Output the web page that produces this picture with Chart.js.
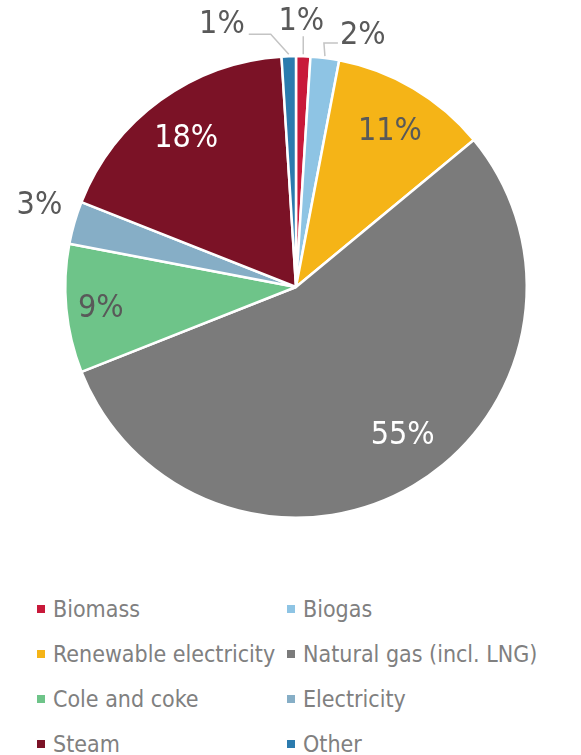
<!DOCTYPE html>
<html>
<head>
<meta charset="utf-8">
<script src="https://cdn.jsdelivr.net/npm/chart.js@4"></script>
<style>
  body { margin: 0; background: #fff; width: 581px; height: 755px; position: relative; overflow: hidden; }
  #pie { position: absolute; left: 0; top: 0; }
  #legend { position: absolute; left: 37px; top: 586px; display: grid; grid-template-columns: 250px 250px; grid-auto-rows: 45px;
            font-family: "DejaVu Sans Condensed", "DejaVu Sans", sans-serif; font-size: 23px; color: #808080; }
  #legend div { display: flex; align-items: center; height: 45px; white-space: nowrap; }
  #legend span.box { display: inline-block; flex: 0 0 8px; width: 8px; height: 8px; margin-right: 8px; }
</style>
</head>
<body>
<canvas id="pie" width="581" height="560"></canvas>
<div id="legend"></div>
<script>
const categories = ["Biomass", "Biogas", "Renewable electricity", "Natural gas (incl. LNG)", "Cole and coke", "Electricity", "Steam", "Other"];
const shares = [1, 2, 11, 55, 9, 3, 18, 1];
const colours = ["#C8193A", "#8EC4E4", "#F5B417", "#7B7B7B", "#6EC489", "#86AEC6", "#7B1226", "#2B7BAE"];

// where each percentage goes: inside the slice or outside with a leader line
const labelStyle = [
  { out: true, dx: -2, dy: -38, align: "center", leader: [[0, -20]] },
  { out: true, dx: 15, dy: -26, align: "left", leader: [[-1, -15], [13, -15]] },
  { r: 0.80, color: "#595959" },
  { r: 0.78, dx: 15, dy: -10, color: "#ffffff" },
  { r: 0.85, color: "#595959" },
  { out: true, dx: -35, dy: -20, align: "center" },
  { r: 0.81, color: "#ffffff" },
  { out: true, dx: -44, dy: -35, align: "right", leader: [[-18, -22], [-40, -22]] }
];

const pctLabels = {
  id: "pctLabels",
  afterDatasetsDraw(chart) {
    const ctx = chart.ctx;
    const meta = chart.getDatasetMeta(0);
    const size = 32;
    ctx.save();
    ctx.font = size + 'px "DejaVu Sans Condensed", "DejaVu Sans", sans-serif';
    meta.data.forEach((arc, i) => {
      const p = arc.getProps(["x", "y", "startAngle", "endAngle", "outerRadius"], true);
      const mid = (p.startAngle + p.endAngle) / 2;
      const st = labelStyle[i];
      const text = shares[i] + "%";
      let tx, ty;
      if (st.out) {
        const ex = p.x + Math.cos(mid) * p.outerRadius;
        const ey = p.y + Math.sin(mid) * p.outerRadius;
        if (st.leader) {
          ctx.strokeStyle = "#c4c4c4";
          ctx.lineWidth = 1.5;
          ctx.beginPath();
          ctx.moveTo(ex, ey - 2);
          st.leader.forEach(pt => ctx.lineTo(ex + pt[0], ey + pt[1]));
          ctx.stroke();
        }
        tx = ex + st.dx;
        ty = ey + st.dy;
        ctx.fillStyle = "#595959";
        ctx.textAlign = st.align;
      } else {
        tx = p.x + Math.cos(mid) * p.outerRadius * st.r + (st.dx || 0);
        ty = p.y + Math.sin(mid) * p.outerRadius * st.r + (st.dy || 0);
        ctx.fillStyle = st.color;
        ctx.textAlign = "center";
      }
      ctx.textBaseline = "alphabetic";
      ctx.fillText(text, tx, ty + size * 0.365);
    });
    ctx.restore();
  }
};

new Chart(document.getElementById("pie"), {
  type: "pie",
  data: {
    labels: categories,
    datasets: [{
      data: shares,
      backgroundColor: colours,
      borderColor: "#ffffff",
      borderWidth: 2.5
    }]
  },
  options: {
    responsive: false,
    animation: false,
    devicePixelRatio: 1,
    layout: { padding: { top: 55, bottom: 41, left: 64, right: 53 } },
    plugins: {
      legend: { display: false },
      tooltip: { enabled: false }
    }
  },
  plugins: [pctLabels]
});

// legend below the pie, two columns
const legend = document.getElementById("legend");
categories.forEach((name, i) => {
  const item = document.createElement("div");
  item.innerHTML = '<span class="box" style="background:' + colours[i] + '"></span>' + name;
  legend.appendChild(item);
});
</script>
</body>
</html>
